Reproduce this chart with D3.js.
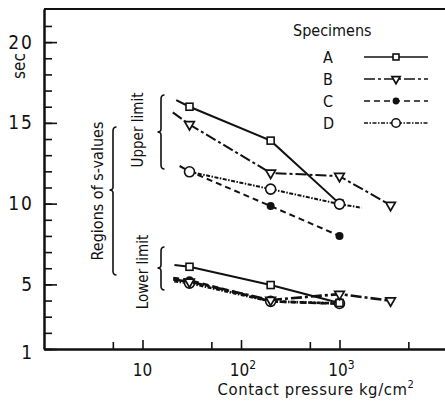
<!DOCTYPE html>
<html><head><meta charset="utf-8">
<script src="https://cdn.jsdelivr.net/npm/d3@7"></script>
<style>
body{margin:0;background:#fff}
text{font-family:'DejaVu Sans Condensed','DejaVu Sans',sans-serif;font-stretch:condensed;fill:#111}
</style></head><body>
<svg id="c" width="445" height="401"></svg>
<script>
// ---- data ----
const specimens = ["A","B","C","D"];
const pressures = [30, 200, 1000, 3300];
// upper limit (sec)
const upperA = [16.0, 13.9, 10.0];
const upperB = [14.9, 11.9, 11.7, 9.9];
const upperC = [12.0, 9.85, 8.0];
const upperD = [11.97, 10.9, 9.97];
// lower limit (sec)
const lowerA = [6.09, 4.96, 3.85];
const lowerB = [5.16, 4.03, 4.4, 3.99];
const lowerC = [5.25, 3.95, 3.8];
const lowerD = [5.08, 3.95, 3.82];
// line extensions beyond the markers [pressure, sec]
const upperStart = {A:[22,16.41], B:[20.3,15.65], C:[23.8,12.33], D:null};
const upperEnd   = {A:null, B:null, C:null, D:[1670,9.75]};
const lowerStart = {A:[21.1,6.2], B:[20.5,5.3], C:[20.5,5.4], D:[21,5.2]};
const yMajor = [1, 5, 10, 15, 20];
const yMinor = d3.range(1, 22);
const xMajor = [10, 100, 1000];
const xMinor = [5, 50, 500, 5000];
const xLabels = [["10",""],["10","2"],["10","3"]];

const dash = {A:null, B:"11,3,3,3", C:"6,4", D:"4,1.5,1.5,1.5"};
const marker = {A:"square", B:"tri", C:"dot", D:"circle"};

const svg = d3.select("#c");
const x = d3.scaleLog().domain([1, Math.pow(10, 401/98.5)]).range([44, 445]);
const y = d3.scaleLinear().domain([1, 22.05]).range([349, 9]);

// frame
svg.append("line").attr("x1",44).attr("x2",445).attr("y1",9).attr("y2",9).attr("stroke","#111").attr("stroke-width",2);

// y axis
const gy = svg.append("g").attr("transform","translate(44,0)");
gy.call(d3.axisLeft(y).tickValues(yMinor).tickSizeInner(-8).tickSizeOuter(0).tickFormat(""));
const gy2 = svg.append("g").attr("transform","translate(44,0)");
gy2.call(d3.axisLeft(y).tickValues(yMajor).tickSizeInner(-13).tickSizeOuter(0).tickPadding(10).tickFormat(d3.format("d")));
[gy,gy2].forEach(g=>{g.select(".domain").attr("stroke","#111").attr("stroke-width",2);
  g.selectAll(".tick line").attr("stroke","#111").attr("stroke-width",1.6);});
gy2.selectAll(".tick text").attr("font-size",19).attr("letter-spacing","2px").attr("fill","#111")
  .style("font-family","'DejaVu Sans Condensed','DejaVu Sans',sans-serif");
gy2.select(".tick text").attr("dy","0.5em");

// x axis
const gx = svg.append("g").attr("transform","translate(0,349)");
gx.call(d3.axisBottom(x).tickValues(xMinor).tickSizeInner(-7).tickSizeOuter(0).tickFormat(""));
const gx2 = svg.append("g").attr("transform","translate(0,349)");
gx2.call(d3.axisBottom(x).tickValues(xMajor).tickSizeInner(-9).tickSizeOuter(0).tickFormat(""));
[gx,gx2].forEach(g=>{g.select(".domain").attr("stroke","#111").attr("stroke-width",2);
  g.selectAll(".tick line").attr("stroke","#111").attr("stroke-width",1.6);});
gx2.selectAll(".tick text").remove();
xMajor.forEach((v,i)=>{
  const t = svg.append("text").attr("x",x(v)+ (i?2:0)).attr("y",376).attr("text-anchor","middle").attr("font-size",17);
  t.append("tspan").text(xLabels[i][0]);
  if(xLabels[i][1]) t.append("tspan").attr("dy",-7).attr("font-size",12).text(xLabels[i][1]);
});
const xt = svg.append("text").attr("x",316).attr("y",395).attr("text-anchor","middle").attr("font-size",16.5).attr("letter-spacing","0.6px");
xt.append("tspan").text("Contact pressure kg/cm");
xt.append("tspan").attr("dy",-7).attr("font-size",11).text("2");

// y title
svg.append("text").attr("transform","translate(25,66) rotate(-90)").attr("text-anchor","middle").attr("font-size",17).text("sec");

// series
function drawSeries(vals, name, start, end, sw){
  const pts = vals.map((v,i)=>[pressures[i], v]);
  const linePts = (start?[start]:[]).concat(pts).concat(end?[end]:[]);
  const line = d3.line().x(d=>x(d[0])).y(d=>y(d[1]));
  svg.append("path").attr("d",line(linePts)).attr("fill","none").attr("stroke","#111")
    .attr("stroke-width",sw).attr("stroke-dasharray",dash[name]);
  pts.forEach(p=>drawMarker(x(p[0]), y(p[1]), name, 1));
}
function drawMarker(cx, cy, name, k){
  const m = marker[name];
  if(m==="square") svg.append("rect").attr("x",cx-3.5*k).attr("y",cy-3.5*k).attr("width",7*k).attr("height",7*k).attr("fill","#fff").attr("stroke","#111").attr("stroke-width",1.6);
  if(m==="tri") svg.append("path").attr("d",d3.symbol(d3.symbolTriangle,40*k*k)()).attr("transform",`translate(${cx},${cy}) rotate(180)`).attr("fill","#fff").attr("stroke","#111").attr("stroke-width",1.7);
  if(m==="dot") svg.append("circle").attr("cx",cx).attr("cy",cy).attr("r",4*k).attr("fill","#111");
  if(m==="circle") svg.append("circle").attr("cx",cx).attr("cy",cy).attr("r",5*k).attr("fill","#fff").attr("stroke","#111").attr("stroke-width",1.6);
}
const upper = {A:upperA,B:upperB,C:upperC,D:upperD};
const lower = {A:lowerA,B:lowerB,C:lowerC,D:lowerD};
["C","A","B","D"].forEach(n=>drawSeries(upper[n], n, upperStart[n], upperEnd[n], 2));
["C","D","A","B"].forEach(n=>drawSeries(lower[n], n, lowerStart[n], null, n==="A"?2:2.6));

// legend
svg.append("text").attr("x",293).attr("y",36).attr("font-size",16).text("Specimens");
specimens.forEach((n,i)=>{
  const cy = 57 + i*22;
  svg.append("text").attr("x",323).attr("y",cy+6).attr("font-size",16).text(n);
  svg.append("line").attr("x1",364).attr("x2",428).attr("y1",cy).attr("y2",cy).attr("stroke","#111").attr("stroke-width",1.6).attr("stroke-dasharray",dash[n]);
  drawMarker(396, cy, n, 0.85);
});

// annotations
function brace(xc, y0, y1, ym, w){
  const p = d3.path();
  p.moveTo(xc+w/2, y0);
  p.quadraticCurveTo(xc, y0, xc, y0+4);
  p.lineTo(xc, ym-3);
  p.quadraticCurveTo(xc, ym, xc-w/2, ym);
  p.quadraticCurveTo(xc, ym, xc, ym+3);
  p.lineTo(xc, y1-4);
  p.quadraticCurveTo(xc, y1, xc+w/2, y1);
  svg.append("path").attr("d",p.toString()).attr("fill","none").attr("stroke","#111").attr("stroke-width",1.6);
}
brace(161, 95, 169, 132, 7);
brace(161, 247, 290, 268, 7);
brace(113, 127, 275, 190, 7);
svg.append("text").attr("transform","translate(143,130) rotate(-90)").attr("text-anchor","middle").attr("font-size",15).text("Upper limit");
svg.append("text").attr("transform","translate(148,272) rotate(-90)").attr("text-anchor","middle").attr("font-size",15).text("Lower limit");
svg.append("text").attr("transform","translate(103,191) rotate(-90)").attr("text-anchor","middle").attr("font-size",16).text("Regions of s-values");
</script></body></html>
